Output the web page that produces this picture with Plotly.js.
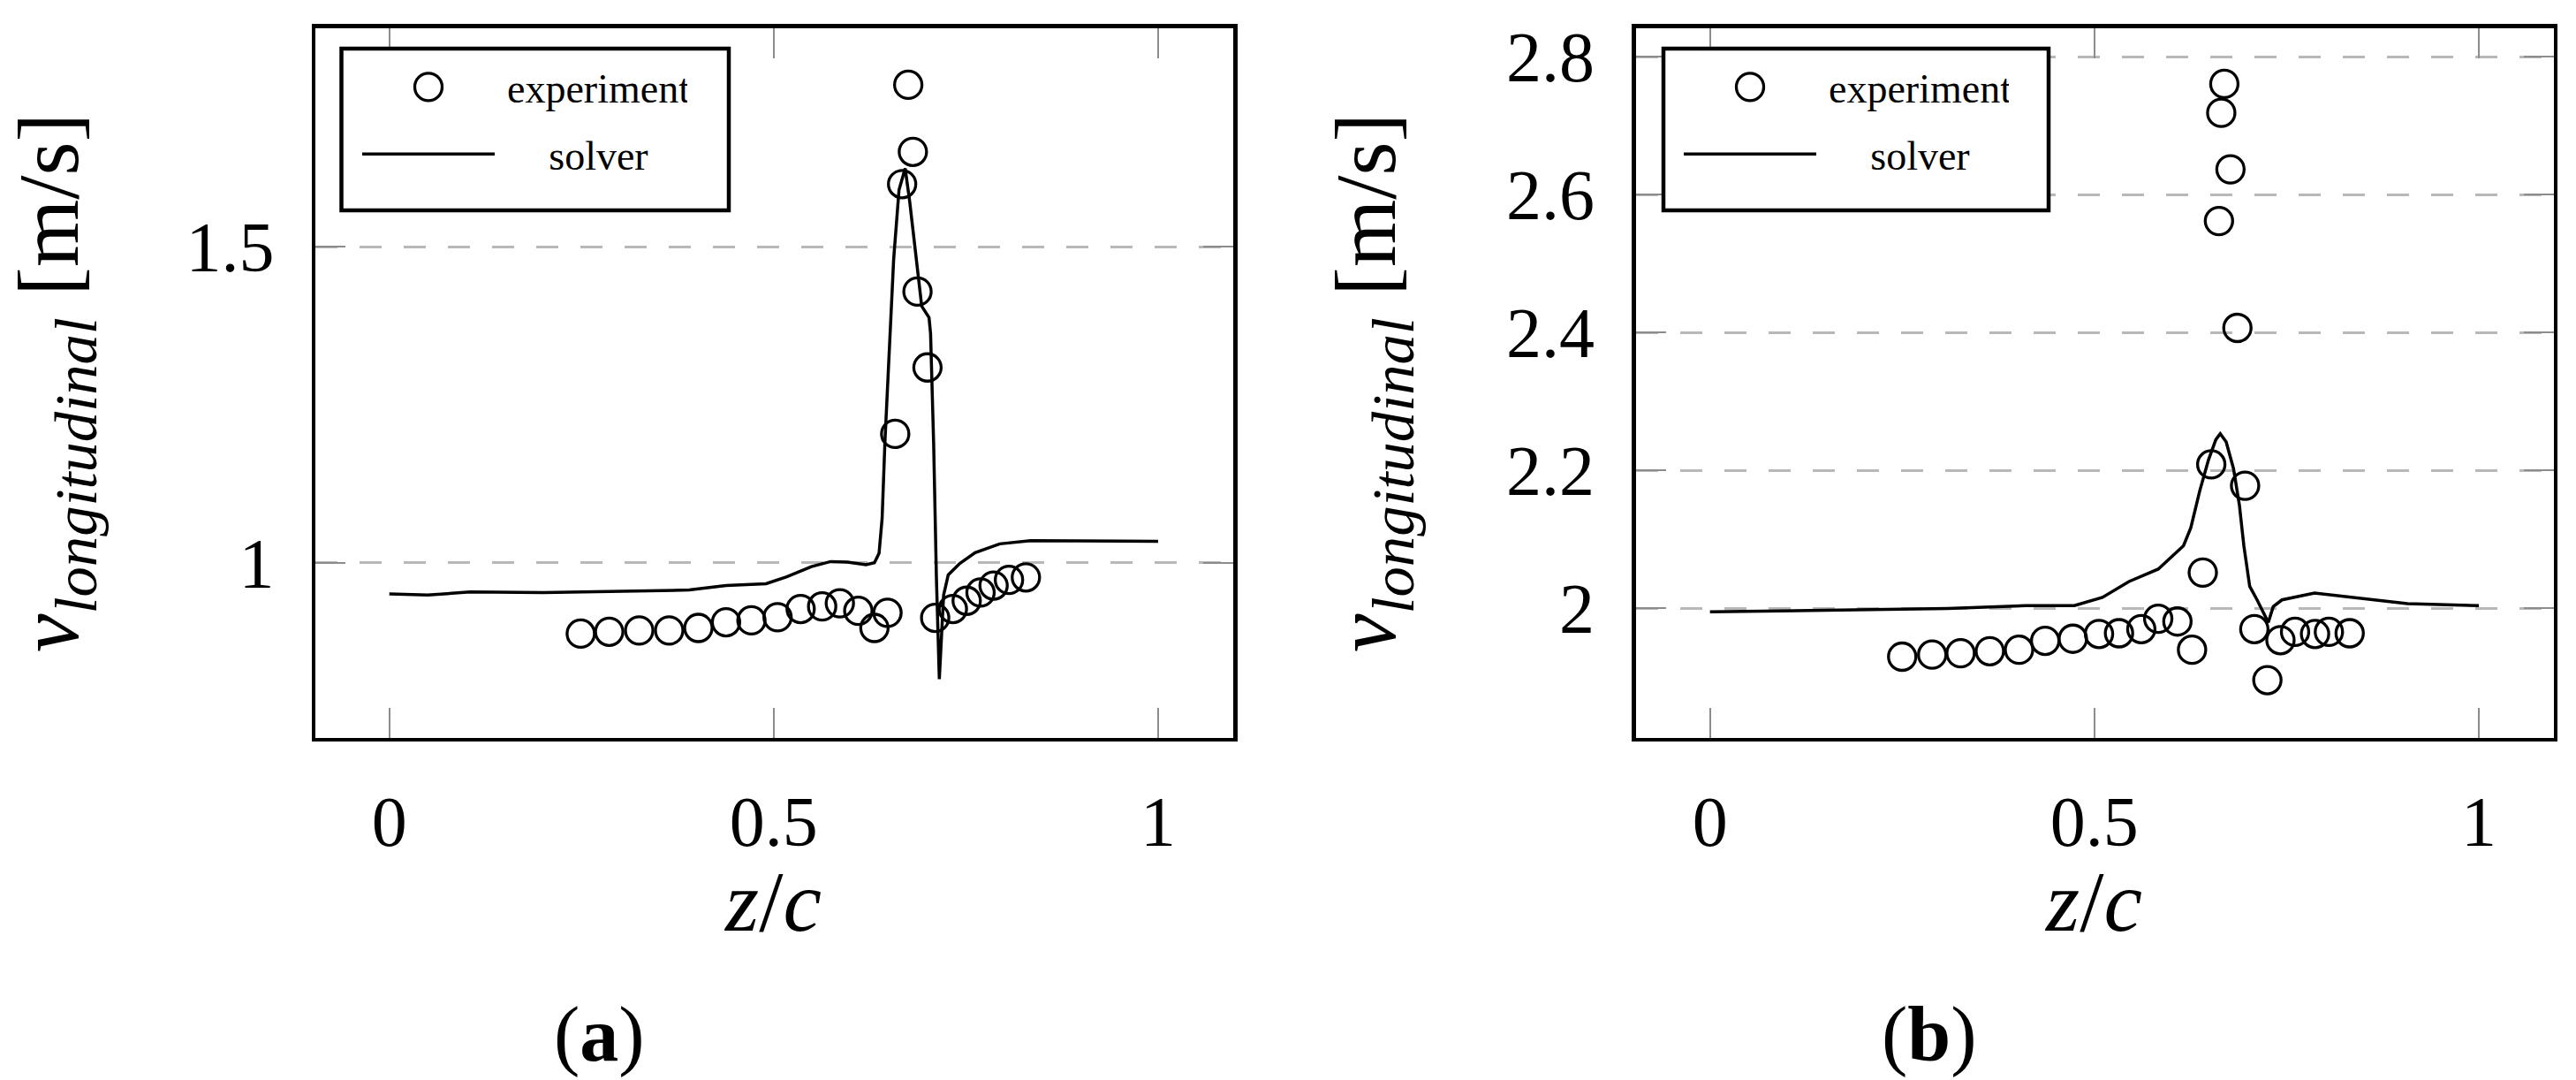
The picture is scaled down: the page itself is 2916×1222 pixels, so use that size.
<!DOCTYPE html>
<html>
<head>
<meta charset="utf-8">
<script src="https://cdn.plot.ly/plotly-3.0.1.min.js"></script>
<style>
html, body { margin: 0; padding: 0; background: #ffffff; }
#chart { width: 2916px; height: 1222px; }
</style>
</head>
<body>
<div id="chart"></div>
<script>
// ---------- data ----------
const seriesNames = ['experiment', 'solver'];
const panelLabels = ['(<b>a</b>)', '(<b>b</b>)'];
const xTitle = '<i>z</i>/<i>c</i>';
const yTitle = '<i>v</i><sub><i>longitudinal</i></sub> [m/s]';

const xTickVals = [0, 0.5, 1];
const xTickText = ['0', '0.5', '1'];
const yTickValsA = [1, 1.5];
const yTickTextA = ['1', '1.5'];
const yTickValsB = [2, 2.2, 2.4, 2.6, 2.8];
const yTickTextB = ['2', '2.2', '2.4', '2.6', '2.8'];

// panel (a)
const expA_x = [0.249, 0.286, 0.325, 0.364, 0.402, 0.438, 0.471, 0.505, 0.535, 0.563, 0.586, 0.610, 0.631, 0.648,
                0.658, 0.667, 0.675, 0.681, 0.687, 0.700, 0.710, 0.733, 0.751, 0.769, 0.786, 0.806, 0.828];
const expA_y = [0.888, 0.891, 0.893, 0.893, 0.897, 0.906, 0.909, 0.914, 0.927, 0.931, 0.936, 0.924, 0.897, 0.921,
                1.204, 1.599, 1.756, 1.650, 1.429, 1.309, 0.913, 0.927, 0.940, 0.953, 0.964, 0.973, 0.977];
const solA_x = [0, 0.05, 0.105, 0.2, 0.303, 0.39, 0.438, 0.49, 0.517, 0.549, 0.574, 0.596, 0.620, 0.631, 0.637,
                0.641, 0.6446, 0.650, 0.656, 0.663, 0.671, 0.677, 0.684, 0.6925, 0.702, 0.704, 0.708, 0.7116,
                0.7154, 0.721, 0.727, 0.742, 0.762, 0.7805, 0.794, 0.834, 0.913, 1.0];
const solA_y = [0.951, 0.949, 0.954, 0.953, 0.955, 0.957, 0.964, 0.967, 0.978, 0.994, 1.002, 1.001, 0.997, 1.000, 1.015,
                1.070, 1.190, 1.330, 1.480, 1.590, 1.624, 1.570, 1.500, 1.406, 1.388, 1.363, 1.190, 0.977,
                0.816, 0.949, 0.981, 0.999, 1.016, 1.0235, 1.030, 1.035, 1.035, 1.034];

// panel (b)
const expB_x = [0.250, 0.289, 0.326, 0.364, 0.402, 0.436, 0.472, 0.506, 0.532, 0.561, 0.583, 0.608, 0.627, 0.641,
                0.652, 0.662, 0.665, 0.669, 0.677, 0.686, 0.696, 0.708, 0.725, 0.742, 0.761, 0.787, 0.805, 0.832];
const expB_y = [1.930, 1.933, 1.935, 1.938, 1.940, 1.953, 1.956, 1.963, 1.964, 1.970, 1.985, 1.981, 1.940, 2.052,
                2.209, 2.562, 2.719, 2.761, 2.637, 2.407, 2.178, 1.970, 1.896, 1.954, 1.966, 1.963, 1.966, 1.964];
const solB_x = [0, 0.128, 0.309, 0.411, 0.474, 0.5105, 0.545, 0.583, 0.6159, 0.6254, 0.6369, 0.6484, 0.658, 0.6637,
                0.6714, 0.681, 0.6886, 0.6944, 0.702, 0.7116, 0.7193, 0.7262, 0.7326, 0.744, 0.7863, 0.820, 0.907, 1.0];
const solB_y = [1.995, 1.997, 2.000, 2.004, 2.004, 2.016, 2.039, 2.057, 2.091, 2.117, 2.170, 2.2155, 2.245, 2.2535,
                2.2416, 2.2025, 2.150, 2.091, 2.032, 2.0124, 1.996, 1.9796, 2.0026, 2.0124, 2.0223, 2.018, 2.007, 2.004];

// ---------- styling ----------
const W = 2916, H = 1222;
const FONT = 'Liberation Serif';
const px = v => v / W;
const py = v => 1 - v / H;

function xAxis(domain, range) {
  return {
    domain: domain, range: range, anchor: domain[0] < 0.5 ? 'y' : 'y2',
    showline: true, linewidth: 4.5, linecolor: '#000', mirror: 'allticks',
    ticks: 'inside', ticklen: 34, tickwidth: 2, tickcolor: '#8c8c8c',
    showgrid: false, zeroline: false,
    tickmode: 'array', tickvals: xTickVals, ticktext: xTickText,
    tickfont: { family: FONT, size: 80, color: '#000' },
    ticklabelstandoff: 22
  };
}
function yAxis(range, vals, text, anchor) {
  return {
    domain: [py(834.5), py(31.5)], range: range, anchor: anchor,
    showline: true, linewidth: 4.5, linecolor: '#000', mirror: 'allticks',
    ticks: 'inside', ticklen: 34, tickwidth: 2, tickcolor: '#8c8c8c',
    showgrid: true, gridcolor: '#b8b8b8', gridwidth: 2.8, griddash: '25px,25px',
    zeroline: false,
    tickmode: 'array', tickvals: vals, ticktext: text,
    tickfont: { family: FONT, size: 80, color: '#000' },
    ticklabelstandoff: 26
  };
}

const markerStyle = { symbol: 'circle-open', size: 31, color: '#000', line: { width: 3.3, color: '#000' } };
const lineStyle = { color: '#000', width: 3.5 };

const traces = [
  { x: expA_x, y: expA_y, xaxis: 'x', yaxis: 'y', mode: 'markers', name: seriesNames[0], marker: markerStyle,
    legend: 'legend', legendgroup: 'a1' },
  { x: solA_x, y: solA_y, xaxis: 'x', yaxis: 'y', mode: 'lines', name: seriesNames[1], line: lineStyle,
    legend: 'legend', legendgroup: 'a2' },
  { x: expB_x, y: expB_y, xaxis: 'x2', yaxis: 'y2', mode: 'markers', name: seriesNames[0], marker: markerStyle,
    legend: 'legend2', legendgroup: 'b1' },
  { x: solB_x, y: solB_y, xaxis: 'x2', yaxis: 'y2', mode: 'lines', name: seriesNames[1], line: lineStyle,
    legend: 'legend2', legendgroup: 'b2' }
];

function legendCfg(xLeft) {
  return {
    x: px(xLeft), y: py(62), xanchor: 'left', yanchor: 'top',
    bgcolor: 'rgba(0,0,0,0)', borderwidth: 0,
    font: { family: FONT, size: 46, color: '#000' },
    itemwidth: 150, tracegroupgap: 13, traceorder: 'grouped'
  };
}

const titleFont = { family: FONT, size: 98, color: '#000' };
function label(text, x, y, angle) {
  return { text: text, xref: 'paper', yref: 'paper', x: px(x), y: py(y), xanchor: 'center', yanchor: 'middle',
           textangle: angle || 0, showarrow: false, font: titleFont };
}

const layout = {
  width: W, height: H,
  margin: { l: 0, r: 0, t: 0, b: 0, pad: 0 },
  paper_bgcolor: '#fff', plot_bgcolor: '#fff',
  font: { family: FONT, color: '#000' },
  showlegend: true,
  xaxis: xAxis([px(357), px(1396)], [-0.0962, 1.0977]),
  yaxis: yAxis([0.7237, 1.8461], yTickValsA, yTickTextA, 'x'),
  xaxis2: xAxis([px(1851.5), px(2890.5)], [-0.0967, 1.0971]),
  yaxis2: yAxis([1.8127, 2.8423], yTickValsB, yTickTextB, 'x2'),
  legend: legendCfg(405),
  legend2: legendCfg(1901),
  shapes: [
    { type: 'rect', xref: 'paper', yref: 'paper', x0: px(386.5), x1: px(825), y0: py(55), y1: py(238),
      line: { color: '#000', width: 4.5 }, fillcolor: '#fff', layer: 'above' },
    { type: 'rect', xref: 'paper', yref: 'paper', x0: px(1883), x1: px(2319), y0: py(55), y1: py(238),
      line: { color: '#000', width: 4.5 }, fillcolor: '#fff', layer: 'above' }
  ],
  annotations: [
    label(xTitle, 874, 1020),
    label(xTitle, 2369, 1020),
    label(yTitle, 62, 433, -90),
    label(yTitle, 1553, 433, -90),
    { text: panelLabels[0], xref: 'paper', yref: 'paper', x: px(678), y: py(1170), xanchor: 'center', yanchor: 'middle',
      showarrow: false, font: { family: FONT, size: 88, color: '#000' } },
    { text: panelLabels[1], xref: 'paper', yref: 'paper', x: px(2184), y: py(1170), xanchor: 'center', yanchor: 'middle',
      showarrow: false, font: { family: FONT, size: 88, color: '#000' } }
  ]
};

function circlePath(r) {
  return 'M' + r + ',0A' + r + ',' + r + ' 0 1,1 0,-' + r + 'A' + r + ',' + r + ' 0 0,1 ' + r + ',0Z';
}

function fixLegends() {
  // larger legend circles, as in the reference
  document.querySelectorAll('.legendpoints path.scatterpts').forEach(function (p) {
    p.setAttribute('d', circlePath(15.5));
    p.style.strokeWidth = '3.3px';
  });
  // centre each legend's entry texts on each other (pgfplots style)
  document.querySelectorAll('.infolayer > g').forEach(function (root) {
    var cls = (root.getAttribute('class') || '').trim();
    if (!/^legend\d*$/.test(cls)) return;
    var texts = Array.prototype.slice.call(root.querySelectorAll('g.traces > text'));
    if (!texts.length) return;
    texts.forEach(function (t) {
      if (!t.hasAttribute('data-x0')) t.setAttribute('data-x0', t.getAttribute('x') || '0');
    });
    var widths = texts.map(function (t) { return t.getComputedTextLength(); });
    var maxW = Math.max.apply(null, widths);
    texts.forEach(function (t, i) {
      var x0 = parseFloat(t.getAttribute('data-x0')) || 0;
      t.setAttribute('x', x0 + 9 + (maxW - widths[i]) / 2);
    });
  });
}

const gd = document.getElementById('chart');
Plotly.newPlot(gd, traces, layout, { displayModeBar: false, staticPlot: true }).then(function () {
  fixLegends();
});
</script>
</body>
</html>
